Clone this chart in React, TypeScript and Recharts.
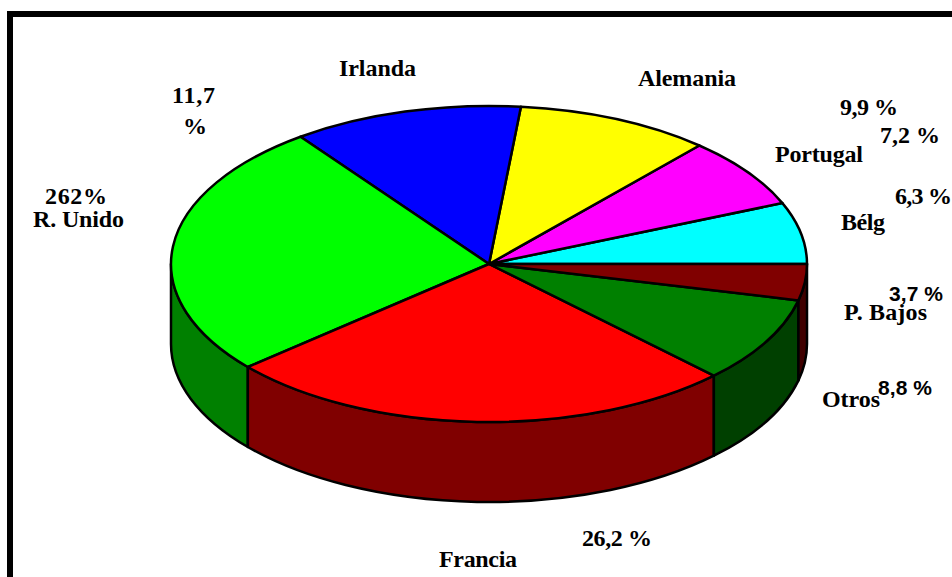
import { PieChart, Pie, Cell } from 'recharts';

const COUNTRIES = ['Bélg', 'Portugal', 'Alemania', 'Irlanda', 'R. Unido', 'Francia', 'Otros', 'P. Bajos'];
const SHARES = [6.3, 7.2, 9.9, 11.7, 26.2, 26.2, 8.8, 3.7];
const SHARE_LABELS = ['6,3 %', '7,2 %', '9,9 %', '11,7', '262%', '26,2 %', '8,8 %', '3,7 %'];

const TOP_COLORS = ['#00ffff', '#ff00ff', '#ffff00', '#0000ff', '#00ff00', '#ff0000', '#008000', '#800000'];
const WALL_COLORS = ['#008080', '#800080', '#808000', '#000080', '#008000', '#800000', '#004000', '#400000'];

const data = COUNTRIES.map((name, i) => ({ name, value: SHARES[i] }));

const CX = 489;
const CY = 264;
const RADIUS = 318;
const SQUASH = 158 / 318;
const DEPTH = 80;

// [x, baseline, width] for the name and the share of each slice
const NAME_POS = [
  [841, 230, 44],
  [775, 162, 88],
  [638, 86, 98],
  [339, 76, 77],
  [33, 227, 91],
  [439, 567, 78],
  [822, 407, 58],
  [844, 320, 83],
];
const SHARE_POS = [
  [895, 204, 57],
  [880, 143, 60],
  [840, 115, 58],
  [172, 103, 43],
  [45, 204, 62],
  [582, 546, 70],
  [878, 395, 54],
  [889, 301, 54],
];
const SANS_SHARES = [6, 7];

const point = (cx: number, cy: number, rx: number, ry: number, deg: number) => {
  const a = (deg * Math.PI) / 180;
  return [cx + rx * Math.cos(a), cy - ry * Math.sin(a)];
};

function TopSlice(props: any) {
  const { cx, cy, outerRadius, startAngle, endAngle, fill } = props;
  const ry = outerRadius * SQUASH;
  const [x1, y1] = point(cx, cy, outerRadius, ry, startAngle);
  const [x2, y2] = point(cx, cy, outerRadius, ry, endAngle);
  const large = endAngle - startAngle > 180 ? 1 : 0;
  const d = `M${cx},${cy} L${x1},${y1} A${outerRadius},${ry} 0 ${large} 0 ${x2},${y2} Z`;
  return <path d={d} fill={fill} stroke="#000" strokeWidth={2.5} strokeLinejoin="round" />;
}

function WallSlice(props: any) {
  const { cx, cy, outerRadius, startAngle, endAngle, fill } = props;
  if (endAngle <= 180) return <g />;
  const ry = outerRadius * SQUASH;
  const [x1, y1] = point(cx, cy, outerRadius, ry, Math.max(startAngle, 180));
  const [x2, y2] = point(cx, cy, outerRadius, ry, endAngle);
  const d =
    `M${x1},${y1} A${outerRadius},${ry} 0 0 0 ${x2},${y2} L${x2},${y2 + DEPTH} ` +
    `A${outerRadius},${ry} 0 0 1 ${x1},${y1 + DEPTH} Z`;
  return <path d={d} fill={fill} stroke="#000" strokeWidth={2.5} strokeLinejoin="round" />;
}

const renderLabel = ({ index }: any) => {
  const [nx, ny, nw] = NAME_POS[index];
  const [sx, sy, sw] = SHARE_POS[index];
  const sans = SANS_SHARES.includes(index);
  return (
    <g key={index} fontWeight="bold" fill="#000" stroke="none">
      <text x={nx} y={ny} textLength={nw} fontFamily="Liberation Serif" fontSize={24}>
        {COUNTRIES[index]}
      </text>
      <text
        x={sx}
        y={sy}
        textLength={sw}
        fontFamily={sans ? 'Liberation Sans' : 'Liberation Serif'}
        fontSize={sans ? 21 : 24}
      >
        {SHARE_LABELS[index]}
      </text>
      {index === 3 && (
        <text x={183} y={134} fontFamily="Liberation Serif" fontSize={24}>
          %
        </text>
      )}
    </g>
  );
};

export default function App() {
  return (
    <div style={{ position: 'absolute', left: 0, top: 0, width: 952, height: 577, overflow: 'hidden', background: '#fff' }}>
      <div style={{ position: 'absolute', left: 7, top: 11, width: 980, height: 620, border: '6px solid #000' }} />
      <div style={{ position: 'absolute', left: 0, top: 0 }}>
        <PieChart width={952} height={577} margin={{ top: 0, right: 0, bottom: 0, left: 0 }}>
          <Pie
            data={data}
            dataKey="value"
            cx={CX}
            cy={CY}
            outerRadius={RADIUS}
            startAngle={0}
            endAngle={360}
            stroke="#000"
            shape={WallSlice}
            isAnimationActive={false}
          >
            {data.map((d, i) => (
              <Cell key={d.name} fill={WALL_COLORS[i]} />
            ))}
          </Pie>
          <Pie
            data={data}
            dataKey="value"
            cx={CX}
            cy={CY}
            outerRadius={RADIUS}
            startAngle={0}
            endAngle={360}
            stroke="#000"
            shape={TopSlice}
            label={renderLabel}
            labelLine={false}
            isAnimationActive={false}
          >
            {data.map((d, i) => (
              <Cell key={d.name} fill={TOP_COLORS[i]} />
            ))}
          </Pie>
        </PieChart>
      </div>
    </div>
  );
}
